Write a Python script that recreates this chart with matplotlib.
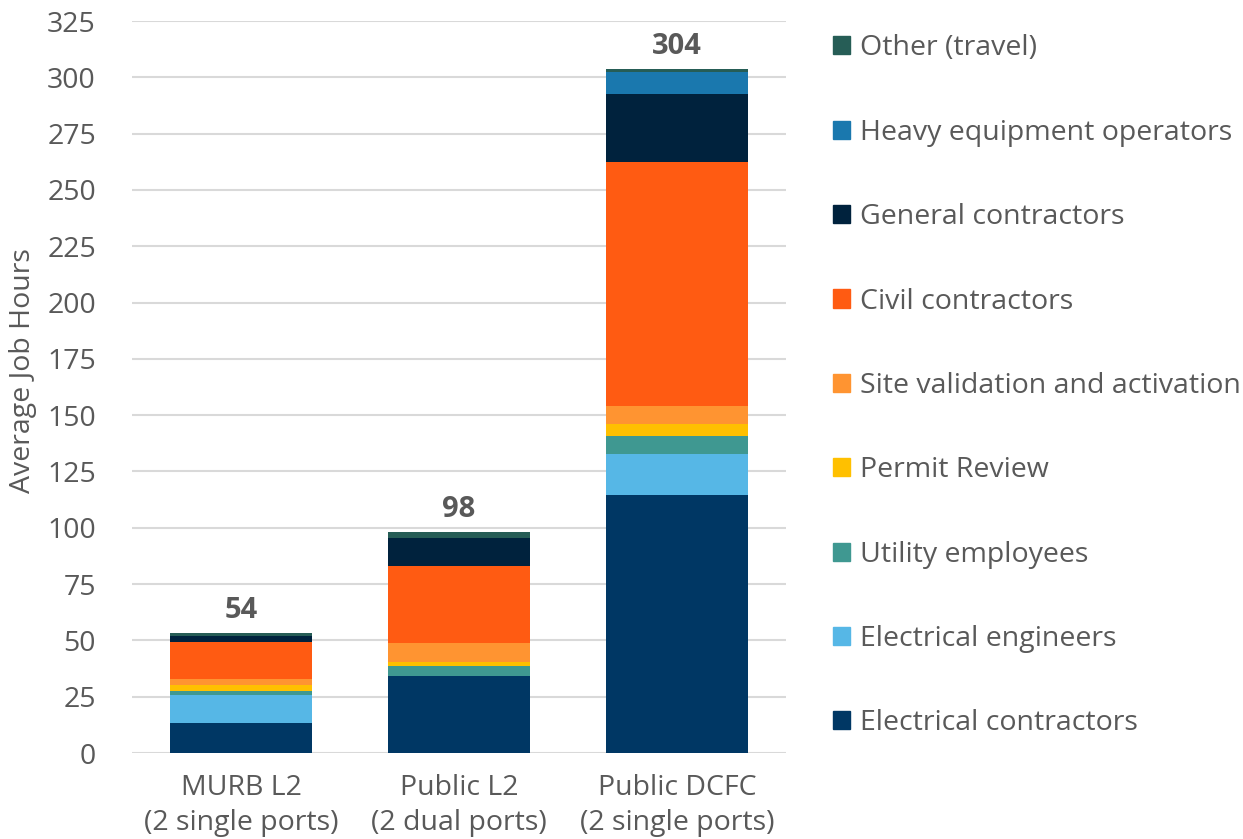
import matplotlib.pyplot as plt
import matplotlib.patches as mpatches
import numpy as np

plt.rcParams['font.family'] = ['Open Sans', 'DejaVu Sans']

# categorias del eje x
categories = ['MURB L2\n(2 single ports)', 'Public L2\n(2 dual ports)', 'Public DCFC\n(2 single ports)']

# series de abajo hacia arriba
series_names = ['Electrical contractors', 'Electrical engineers', 'Utility employees', 'Permit Review',
                'Site validation and activation', 'Civil contractors', 'General contractors',
                'Heavy equipment operators', 'Other (travel)']
electrical_contractors = [13.4, 34.1, 114.4]
electrical_engineers = [12.4, 0.0, 18.2]
utility_employees = [1.9, 4.4, 8.2]
permit_review = [2.3, 1.8, 5.3]
site_validation = [3.0, 8.7, 7.9]
civil_contractors = [16.2, 34.1, 108.3]
general_contractors = [2.6, 12.2, 30.5]
heavy_equipment = [0.0, 0.0, 9.5]
other_travel = [1.7, 2.8, 1.5]
totals = [54, 98, 304]

colors = ['#003764', '#56B7E6', '#3F9891', '#FFC000', '#FF9431', '#FF5B12', '#00223D', '#1A78AE', '#265D56']

series = [electrical_contractors, electrical_engineers, utility_employees, permit_review,
          site_validation, civil_contractors, general_contractors, heavy_equipment, other_travel]

fig = plt.figure(figsize=(12.43, 8.39), dpi=100)
ax = fig.add_axes([132 / 1243, 1 - 753 / 839, 654 / 1243, 732 / 839])

x = np.arange(len(categories))
bottom = np.zeros(len(categories))
handles = []
for name, vals, col in zip(series_names, series, colors):
    vals = np.array(vals)
    ax.bar(x, vals, 0.647, bottom=bottom, color=col, edgecolor='none', zorder=3)
    bottom += vals
    handles.append(mpatches.Patch(color=col, label=name))

# totales encima de cada barra
for xi, t, b in zip(x, totals, bottom):
    ax.text(xi, b + 3.5, str(t), ha='center', va='bottom', fontsize=21, fontweight='bold', color='#595959')

ax.set_xlim(-0.5, 2.5)
ax.set_ylim(0, 325)
ax.set_yticks(np.arange(0, 326, 25))
ax.yaxis.grid(True, color='#D9D9D9', linewidth=1.5, zorder=0)
ax.set_xticks(x)
ax.set_xticklabels(categories, fontsize=20.5, color='#595959', linespacing=1.35)
ax.tick_params(axis='y', labelsize=20.5, colors='#595959', length=0, pad=26)
ax.tick_params(axis='x', length=0, pad=15)
for s in ax.spines.values():
    s.set_visible(False)
ax.set_ylabel('Average Job Hours', fontsize=20.5, color='#595959')
ax.yaxis.set_label_coords(-0.146, 0.523)

fig.legend(handles=handles[::-1], loc='upper left', bbox_to_anchor=(822 / 1243, 1 - 23 / 839),
           frameon=False, fontsize=20.5, labelcolor='#595959', handlelength=0.6, handleheight=0.6,
           handletextpad=0.35, labelspacing=1.98, borderaxespad=0)

fig.savefig('out.png', dpi=100)
